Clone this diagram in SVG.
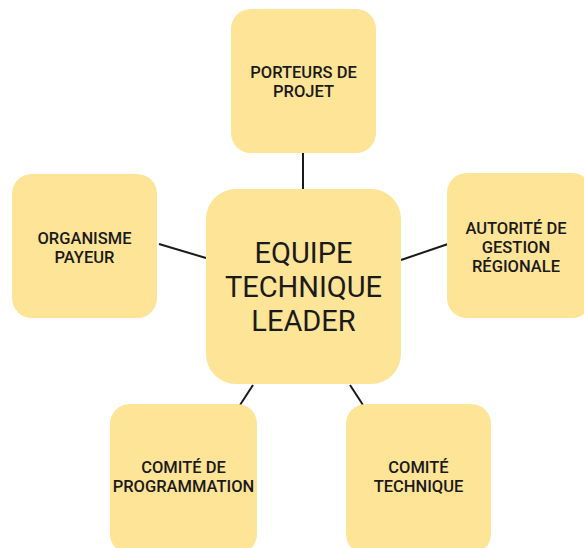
<svg xmlns="http://www.w3.org/2000/svg" width="584" height="548" viewBox="0 0 584 548">
<style>
.box{fill:#fee497}
.t{font-family:Roboto,"DejaVu Sans",sans-serif;font-size:16.5px;font-weight:500;fill:#1a1a1a;text-anchor:middle;dominant-baseline:central}
.big{font-size:29px;font-weight:400}
.c{stroke:#1a1a1a;stroke-width:2;fill:none}
</style>
<rect width="584" height="548" fill="#ffffff"/>
<g id="connectors">
<line class="c" x1="303" y1="153" x2="303" y2="189"/>
<line class="c" x1="159" y1="244" x2="206" y2="258"/>
<line class="c" x1="401" y1="260" x2="448" y2="244"/>
<line class="c" x1="240" y1="405" x2="253" y2="385"/>
<line class="c" x1="363" y1="405" x2="350" y2="385"/>
</g>
<g id="center">
<rect class="box" x="206" y="189" width="195" height="195" rx="30"/>
<text class="t big" x="303.5" y="253">EQUIPE</text>
<text class="t big" x="303.5" y="287">TECHNIQUE</text>
<text class="t big" x="303.5" y="321">LEADER</text>
</g>
<g id="porteurs">
<rect class="box" x="231" y="9" width="145" height="144" rx="20"/>
<text class="t" x="303.5" y="72">PORTEURS DE</text>
<text class="t" x="303.5" y="91">PROJET</text>
</g>
<g id="organisme">
<rect class="box" x="12" y="174" width="145" height="144" rx="20"/>
<text class="t" x="84.5" y="238">ORGANISME</text>
<text class="t" x="84.5" y="257">PAYEUR</text>
</g>
<g id="autorite">
<rect class="box" x="447" y="173" width="145" height="145" rx="20"/>
<text class="t" x="516" y="228">AUTORITÉ DE</text>
<text class="t" x="516" y="247">GESTION</text>
<text class="t" x="516" y="266">RÉGIONALE</text>
</g>
<g id="comite-prog">
<rect class="box" x="110" y="404" width="147" height="150" rx="20"/>
<text class="t" x="183.5" y="467">COMITÉ DE</text>
<text class="t" x="183.5" y="486">PROGRAMMATION</text>
</g>
<g id="comite-tech">
<rect class="box" x="346" y="404" width="145" height="150" rx="20"/>
<text class="t" x="418.5" y="467">COMITÉ</text>
<text class="t" x="418.5" y="486">TECHNIQUE</text>
</g>
</svg>
